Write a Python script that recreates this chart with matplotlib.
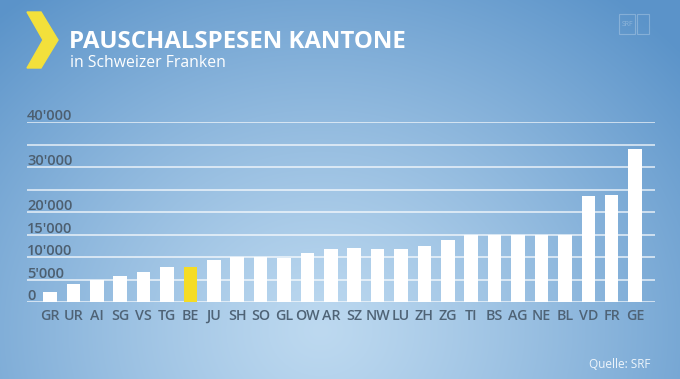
import numpy as np
import matplotlib.pyplot as plt
from matplotlib.patches import Polygon, Rectangle

# Kantone und Pauschalspesen (CHF)
cantons = ['GR', 'UR', 'AI', 'SG', 'VS', 'TG', 'BE', 'JU', 'SH', 'SO', 'GL', 'OW', 'AR',
           'SZ', 'NW', 'LU', 'ZH', 'ZG', 'TI', 'BS', 'AG', 'NE', 'BL', 'VD', 'FR', 'GE']
values = [2200, 4100, 4900, 5900, 6800, 7800, 7800, 9500, 10000, 10000, 9900, 10900, 11900,
          12000, 11900, 11900, 12600, 13900, 14900, 14900, 14900, 14900, 14900, 23700, 23800, 34000]
highlight = 'BE'
y_ticks = [0, 5000, 10000, 15000, 20000, 30000, 40000]
y_labels = ["0", "5'000", "10'000", "15'000", "20'000", "30'000", "40'000"]
grid_levels = [0, 5000, 10000, 15000, 20000, 25000, 30000, 35000, 40000]

plt.rcParams['font.family'] = ['Open Sans', 'DejaVu Sans']

W, H = 680, 379
fig = plt.figure(figsize=(W / 100, H / 100), dpi=100)

# background gradient
bg = fig.add_axes([0, 0, 1, 1])
yy, xx = np.mgrid[0:H, 0:W]
d = np.sqrt(((xx - 320) / 480.0) ** 2 + ((yy - 330) / 420.0) ** 2)
d = np.clip(d, 0, 1) ** 1.2
light = np.array([0.74, 0.85, 0.94])
dark = np.array([0.36, 0.58, 0.79])
img = light[None, None, :] * (1 - d[..., None]) + dark[None, None, :] * d[..., None]
bg.imshow(img, extent=[0, W, H, 0], aspect='auto')
bg.set_xlim(0, W)
bg.set_ylim(H, 0)
bg.axis('off')

# chevron logo
bg.add_patch(Polygon([(27, 12), (41, 12), (58, 40), (41, 68), (27, 68), (43, 40)],
                     closed=True, color='#f3e03b'))
bg.text(69, 42, 'PAUSCHALSPESEN KANTONE', color='white', fontsize=17.3,
        fontweight='bold', va='center', ha='left')
bg.text(70, 63, 'in Schweizer Franken', color='white', fontsize=11.3, va='center', ha='left')
bg.text(650, 364, 'Quelle: SRF', color='#eef5fb', fontsize=8.5, ha='right', va='center')

# faint SRF mark
bg.add_patch(Rectangle((619, 14), 16, 20, fill=False, ec='white', alpha=0.25, lw=0.8))
bg.add_patch(Rectangle((637, 14), 12, 20, fill=False, ec='white', alpha=0.25, lw=0.8))
bg.text(627, 24, 'SRF', color='white', alpha=0.3, fontsize=5, ha='center', va='center')

# chart
ax = fig.add_axes([27 / W, 1 - 302.3 / H, 628 / W, (302.3 - 122.3) / H])
ax.patch.set_alpha(0)
x = np.arange(len(cantons))
for lvl in grid_levels:
    ax.axhline(lvl, color='white', alpha=0.75, lw=1.2, zorder=1)
colors = ['#f5dc25' if c == highlight else 'white' for c in cantons]
ax.bar(x, values, width=0.58, color=colors, zorder=2)
ax.set_xlim(-0.98, 25.85)
ax.set_ylim(0, 40000)
ax.set_xticks(x)
ax.set_xticklabels(cantons, color='#4f6376', fontsize=10.3, fontweight='semibold')
ax.tick_params(axis='x', length=0, pad=5)
ax.set_yticks([])
for s in ax.spines.values():
    s.set_visible(False)

# y labels sit just above their gridline
for v, lab in zip(y_ticks, y_labels):
    ax.text(-0.98, v + 450, lab, color='#4d5f70', fontsize=10.5, fontweight='semibold',
            ha='left', va='baseline')

fig.savefig('out.png', dpi=100)
